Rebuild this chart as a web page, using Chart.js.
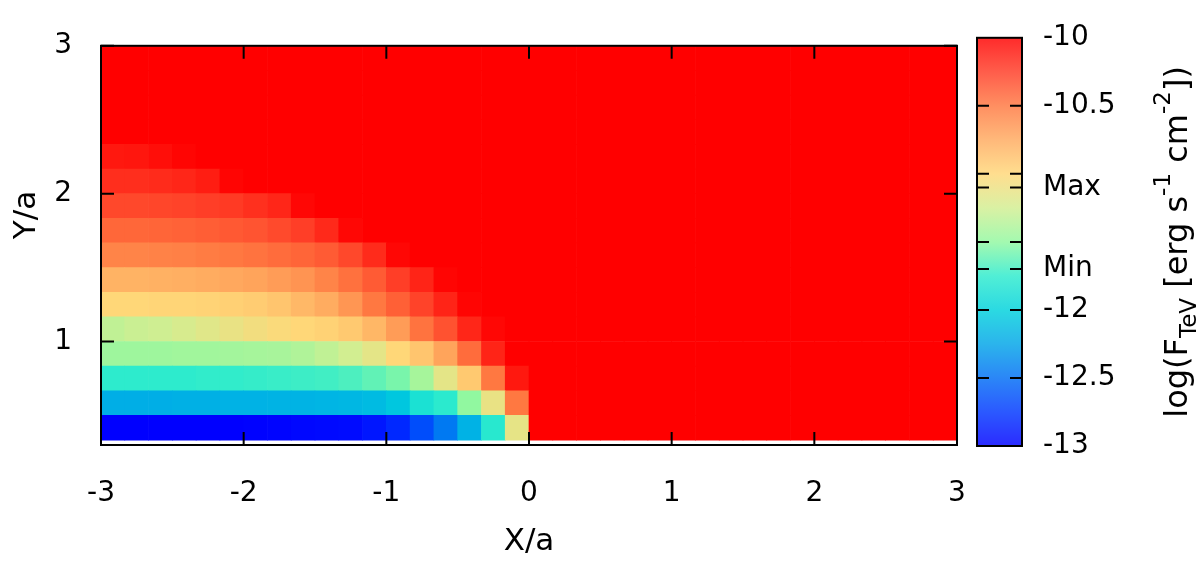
<!DOCTYPE html>
<html><head><meta charset="utf-8">
<script src="https://cdn.jsdelivr.net/npm/chart.js@4.4.1/dist/chart.umd.min.js"></script>
<style>
html,body{margin:0;padding:0;background:#fff;}
#wrap{position:relative;width:1200px;height:561px;}
canvas{position:absolute;left:0;top:0;}
</style>
</head><body>
<div id="wrap"><canvas id="map" width="1200" height="561"></canvas><canvas id="cbar" width="1200" height="561"></canvas></div>
<script>
// ---- data grid (cell centres, X/a and Y/a) ----
const xCenters = [-2.9167,-2.75,-2.5833,-2.4167,-2.25,-2.0833,-1.9167,-1.75,-1.5833,-1.4167,-1.25,-1.0833,-0.9167,-0.75,-0.5833,-0.4167,-0.25,-0.0833,
                  0.0833,0.25,0.4167,0.5833,0.75,0.9167,1.0833,1.25,1.4167,1.5833,1.75,1.9167,2.0833,2.25,2.4167,2.5833,2.75,2.9167];
const yCenters = [0.4167,0.5833,0.75,0.9167,1.0833,1.25,1.4167,1.5833,1.75,1.9167,2.0833,2.25,2.4167,2.5833,2.75,2.9167];
const cellSize = 1/6;

// ---- log(F_TeV) per row (bottom row first), 36 columns from X=-3 to X=3 ----
const row0  = [-13,-13,-13,-13,-13,-13,-12.99,-12.98,-12.97,-12.96,-12.95,-12.9,-12.82,-12.65,-12.45,-12.18,-11.78,-11.14,-10,-10,-10,-10,-10,-10,-10,-10,-10,-10,-10,-10,-10,-10,-10,-10,-10,-10];
const row1  = [-12.2,-12.2,-12.2,-12.19,-12.19,-12.18,-12.18,-12.17,-12.17,-12.16,-12.15,-12.13,-12.06,-11.85,-11.76,-11.5,-11.12,-10.5,-10,-10,-10,-10,-10,-10,-10,-10,-10,-10,-10,-10,-10,-10,-10,-10,-10,-10];
const row2  = [-11.75,-11.75,-11.75,-11.75,-11.74,-11.74,-11.73,-11.72,-11.71,-11.7,-11.67,-11.62,-11.56,-11.42,-11.15,-10.92,-10.5,-10.1,-10,-10,-10,-10,-10,-10,-10,-10,-10,-10,-10,-10,-10,-10,-10,-10,-10,-10];
const row3  = [-11.45,-11.45,-11.45,-11.44,-11.44,-11.43,-11.42,-11.41,-11.38,-11.32,-11.25,-11.15,-11.0,-10.9,-10.72,-10.45,-10.15,-10,-10,-10,-10,-10,-10,-10,-10,-10,-10,-10,-10,-10,-10,-10,-10,-10,-10,-10];
const row4  = [-11.32,-11.28,-11.26,-11.22,-11.17,-11.12,-11.07,-11.03,-11.0,-10.97,-10.92,-10.82,-10.68,-10.48,-10.34,-10.16,-10.03,-10,-10,-10,-10,-10,-10,-10,-10,-10,-10,-10,-10,-10,-10,-10,-10,-10,-10,-10];
const row5  = [-11.0,-11.0,-10.99,-10.99,-10.98,-10.96,-10.94,-10.9,-10.83,-10.76,-10.65,-10.5,-10.4,-10.28,-10.15,-10.02,-10,-10,-10,-10,-10,-10,-10,-10,-10,-10,-10,-10,-10,-10,-10,-10,-10,-10,-10,-10];
const row6  = [-10.8,-10.8,-10.79,-10.78,-10.76,-10.74,-10.72,-10.68,-10.64,-10.56,-10.47,-10.38,-10.26,-10.15,-10.02,-10,-10,-10,-10,-10,-10,-10,-10,-10,-10,-10,-10,-10,-10,-10,-10,-10,-10,-10,-10,-10];
const row7  = [-10.56,-10.56,-10.55,-10.54,-10.52,-10.5,-10.48,-10.45,-10.42,-10.38,-10.3,-10.18,-10.03,-10,-10,-10,-10,-10,-10,-10,-10,-10,-10,-10,-10,-10,-10,-10,-10,-10,-10,-10,-10,-10,-10,-10];
const row8  = [-10.43,-10.43,-10.42,-10.41,-10.39,-10.37,-10.35,-10.31,-10.26,-10.17,-10.03,-10,-10,-10,-10,-10,-10,-10,-10,-10,-10,-10,-10,-10,-10,-10,-10,-10,-10,-10,-10,-10,-10,-10,-10,-10];
const row9  = [-10.3,-10.3,-10.29,-10.28,-10.26,-10.24,-10.2,-10.16,-10.03,-10,-10,-10,-10,-10,-10,-10,-10,-10,-10,-10,-10,-10,-10,-10,-10,-10,-10,-10,-10,-10,-10,-10,-10,-10,-10,-10];
const row10 = [-10.19,-10.19,-10.18,-10.16,-10.12,-10.02,-10,-10,-10,-10,-10,-10,-10,-10,-10,-10,-10,-10,-10,-10,-10,-10,-10,-10,-10,-10,-10,-10,-10,-10,-10,-10,-10,-10,-10,-10];
const row11 = [-10.1,-10.09,-10.06,-10.02,-10,-10,-10,-10,-10,-10,-10,-10,-10,-10,-10,-10,-10,-10,-10,-10,-10,-10,-10,-10,-10,-10,-10,-10,-10,-10,-10,-10,-10,-10,-10,-10];
const row12 = [-10,-10,-10,-10,-10,-10,-10,-10,-10,-10,-10,-10,-10,-10,-10,-10,-10,-10,-10,-10,-10,-10,-10,-10,-10,-10,-10,-10,-10,-10,-10,-10,-10,-10,-10,-10];
const row13 = [-10,-10,-10,-10,-10,-10,-10,-10,-10,-10,-10,-10,-10,-10,-10,-10,-10,-10,-10,-10,-10,-10,-10,-10,-10,-10,-10,-10,-10,-10,-10,-10,-10,-10,-10,-10];
const row14 = [-10,-10,-10,-10,-10,-10,-10,-10,-10,-10,-10,-10,-10,-10,-10,-10,-10,-10,-10,-10,-10,-10,-10,-10,-10,-10,-10,-10,-10,-10,-10,-10,-10,-10,-10,-10];
const row15 = [-10,-10,-10,-10,-10,-10,-10,-10,-10,-10,-10,-10,-10,-10,-10,-10,-10,-10,-10,-10,-10,-10,-10,-10,-10,-10,-10,-10,-10,-10,-10,-10,-10,-10,-10,-10];
const fluxRows = [row0,row1,row2,row3,row4,row5,row6,row7,row8,row9,row10,row11,row12,row13,row14,row15];

// ---- tick labels ----
const xTicks = [-3,-2,-1,0,1,2,3];
const yTicks = [1,2,3];
const cbTickValues = [-13,-12.5,-12,-11.7,-11.5,-11.1,-11,-10.5,-10];
const cbTickLabels = ['-13','-12.5','-12','Min','','Max','','-10.5','-10'];
const cbMin = -13, cbMax = -10;

// ---- palette ----
const paletteValues = [-13,-12.75,-12.5,-12.25,-12,-11.75,-11.5,-11.25,-11,-10.75,-10.5,-10.25,-10];
const paletteColors = [[0,0,255],[0,55,255],[0,110,245],[0,165,232],[0,210,220],[45,235,205],[145,248,160],[210,238,145],[255,215,120],[255,170,95],[255,120,65],[255,60,38],[255,0,0]];
function rgba(c,a){return 'rgba('+Math.round(c[0])+','+Math.round(c[1])+','+Math.round(c[2])+','+a+')';}
function paletteColor(v,a){
  if(a==null)a=1;
  const n=paletteValues.length;
  if(v<=paletteValues[0])return rgba(paletteColors[0],a);
  if(v>=paletteValues[n-1])return rgba(paletteColors[n-1],a);
  for(let i=0;i<n-1;i++){
    if(v>=paletteValues[i]&&v<=paletteValues[i+1]){
      const t=(v-paletteValues[i])/(paletteValues[i+1]-paletteValues[i]);
      const c0=paletteColors[i],c1=paletteColors[i+1];
      return rgba([c0[0]+(c1[0]-c0[0])*t,c0[1]+(c1[1]-c0[1])*t,c0[2]+(c1[2]-c0[2])*t],a);
    }
  }
}

const FAMILY = "'DejaVu Sans', 'Liberation Sans', sans-serif";
Chart.defaults.font.family = FAMILY;
Chart.defaults.font.size = 28;
Chart.defaults.color = '#000';

// ---- main heat map ----
const datasets = fluxRows.map((vals, r) => ({
  data: xCenters.map((xc, c) => ({x: xc, y: [yCenters[r]-cellSize/2, yCenters[r]+cellSize/2]})),
  backgroundColor: vals.map(v => paletteColor(v)),
  borderWidth: 0,
  grouped: false,
  barPercentage: 1,
  categoryPercentage: 1
}));

const frameMain = {
  id: 'frameMain',
  afterDatasetsDraw(chart){
    const {ctx, chartArea:a, scales:{x,y}} = chart;
    ctx.save();
    ctx.strokeStyle='#000'; ctx.lineWidth=2;
    const tl=13;
    ctx.beginPath();
    xTicks.forEach(v=>{const p=x.getPixelForValue(v); ctx.moveTo(p,a.bottom); ctx.lineTo(p,a.bottom-tl); ctx.moveTo(p,a.top); ctx.lineTo(p,a.top+tl);});
    yTicks.forEach(v=>{const p=y.getPixelForValue(v); ctx.moveTo(a.left,p); ctx.lineTo(a.left+tl,p); ctx.moveTo(a.right,p); ctx.lineTo(a.right-tl,p);});
    ctx.stroke();
    ctx.strokeRect(a.left,a.top,a.right-a.left,a.bottom-a.top);
    ctx.restore();
  },
  afterDraw(chart){
    // Y axis title (placed slightly above the axis centre, as in the original)
    const ctx = chart.ctx;
    ctx.save();
    ctx.font = "31px " + FAMILY;
    ctx.fillStyle = '#000';
    ctx.textAlign = 'center';
    ctx.textBaseline = 'middle';
    ctx.translate(27, 215);
    ctx.rotate(-Math.PI/2);
    ctx.fillText('Y/a', 0, 0);
    ctx.restore();
  }
};

new Chart(document.getElementById('map'), {
  type: 'bar',
  data: {datasets},
  options: {
    responsive: false, animation: false, devicePixelRatio: 1,
    layout: {padding: {left: 0, top: 18, right: 243, bottom: 0}},
    plugins: {legend: {display: false}, tooltip: {enabled: false}},
    scales: {
      x: {
        type: 'linear', min: -3, max: 3, offset: false,
        grid: {display: false, drawTicks: false}, border: {display: false},
        afterBuildTicks: s => { s.ticks = xTicks.map(v => ({value: v})); },
        afterFit: s => { s.height = 116; },
        ticks: {padding: 32, maxRotation: 0, autoSkip: false, callback: v => String(v)},
        title: {display: true, text: 'X/a', font: {size: 31}, padding: {top: 0, bottom: 0}}
      },
      y: {
        type: 'linear', min: 0.3, max: 3,
        grid: {display: false, drawTicks: false}, border: {display: false},
        afterBuildTicks: s => { s.ticks = yTicks.map(v => ({value: v})); },
        afterFit: s => { s.width = 101; },
        ticks: {padding: 29, autoSkip: false, callback: v => String(v)},
        title: {display: false}
      }
    }
  },
  plugins: [frameMain]
});

// ---- colour bar ----
const cbAlpha = 0.83;
const cbPlugin = {
  id: 'cbPlugin',
  afterDatasetsDraw(chart){
    const {ctx, chartArea:a, scales:{y}} = chart;
    ctx.save();
    ctx.strokeStyle='#000'; ctx.lineWidth=2;
    const tl=12;
    ctx.beginPath();
    cbTickValues.forEach(v=>{ if(v===cbMin||v===cbMax)return; const p=y.getPixelForValue(v);
      ctx.moveTo(a.left,p); ctx.lineTo(a.left+tl,p); ctx.moveTo(a.right,p); ctx.lineTo(a.right-tl,p);});
    ctx.stroke();
    ctx.strokeRect(a.left,a.top,a.right-a.left,a.bottom-a.top);
    // rotated title with sub/superscripts
    const segs = [{t:'log(F',k:0},{t:'TeV',k:-1},{t:' [erg s',k:0},{t:'-1',k:1},{t:' cm',k:0},{t:'-2',k:1},{t:'])',k:0}];
    const big = "32px " + FAMILY;
    const small = "23px " + FAMILY;
    let total = 0;
    segs.forEach(s=>{ctx.font = s.k===0?big:small; s.w = ctx.measureText(s.t).width; total += s.w;});
    ctx.translate(1187, (a.top+a.bottom)/2);
    ctx.rotate(-Math.PI/2);
    ctx.fillStyle='#000'; ctx.textBaseline='alphabetic'; ctx.textAlign='left';
    let xx = -total/2;
    segs.forEach(s=>{ctx.font = s.k===0?big:small; const dy = s.k===0?0:(s.k<0?9:-17); ctx.fillText(s.t, xx, dy); xx += s.w;});
    ctx.restore();
  }
};

new Chart(document.getElementById('cbar'), {
  type: 'bar',
  data: {labels: ['cb'], datasets: [{
    data: [[cbMin, cbMax]],
    borderWidth: 0, barPercentage: 1, categoryPercentage: 1,
    backgroundColor: (c) => {
      const ch = c.chart; const sy = ch.scales.y;
      if (!ch.chartArea || !sy) return 'rgba(0,0,0,0)';
      const p0 = sy.getPixelForValue(cbMin), p1 = sy.getPixelForValue(cbMax);
      const g = ch.ctx.createLinearGradient(0, p0, 0, p1);
      paletteValues.forEach((v,i)=>{ g.addColorStop((v-cbMin)/(cbMax-cbMin), rgba(paletteColors[i], cbAlpha)); });
      return g;
    }
  }]},
  options: {
    responsive: false, animation: false, devicePixelRatio: 1,
    layout: {padding: {left: 977, top: 18, right: 0, bottom: 115}},
    plugins: {legend: {display: false}, tooltip: {enabled: false}},
    scales: {
      x: {display: false, offset: true},
      y: {
        type: 'linear', position: 'right', min: cbMin, max: cbMax,
        grid: {display: false, drawTicks: false}, border: {display: false},
        afterBuildTicks: s => { s.ticks = cbTickValues.map(v => ({value: v})); },
        afterFit: s => { s.width = 178; },
        ticks: {padding: 21, autoSkip: false, callback: (v, i) => cbTickLabels[i]}
      }
    }
  },
  plugins: [cbPlugin]
});
</script>
</body></html>
